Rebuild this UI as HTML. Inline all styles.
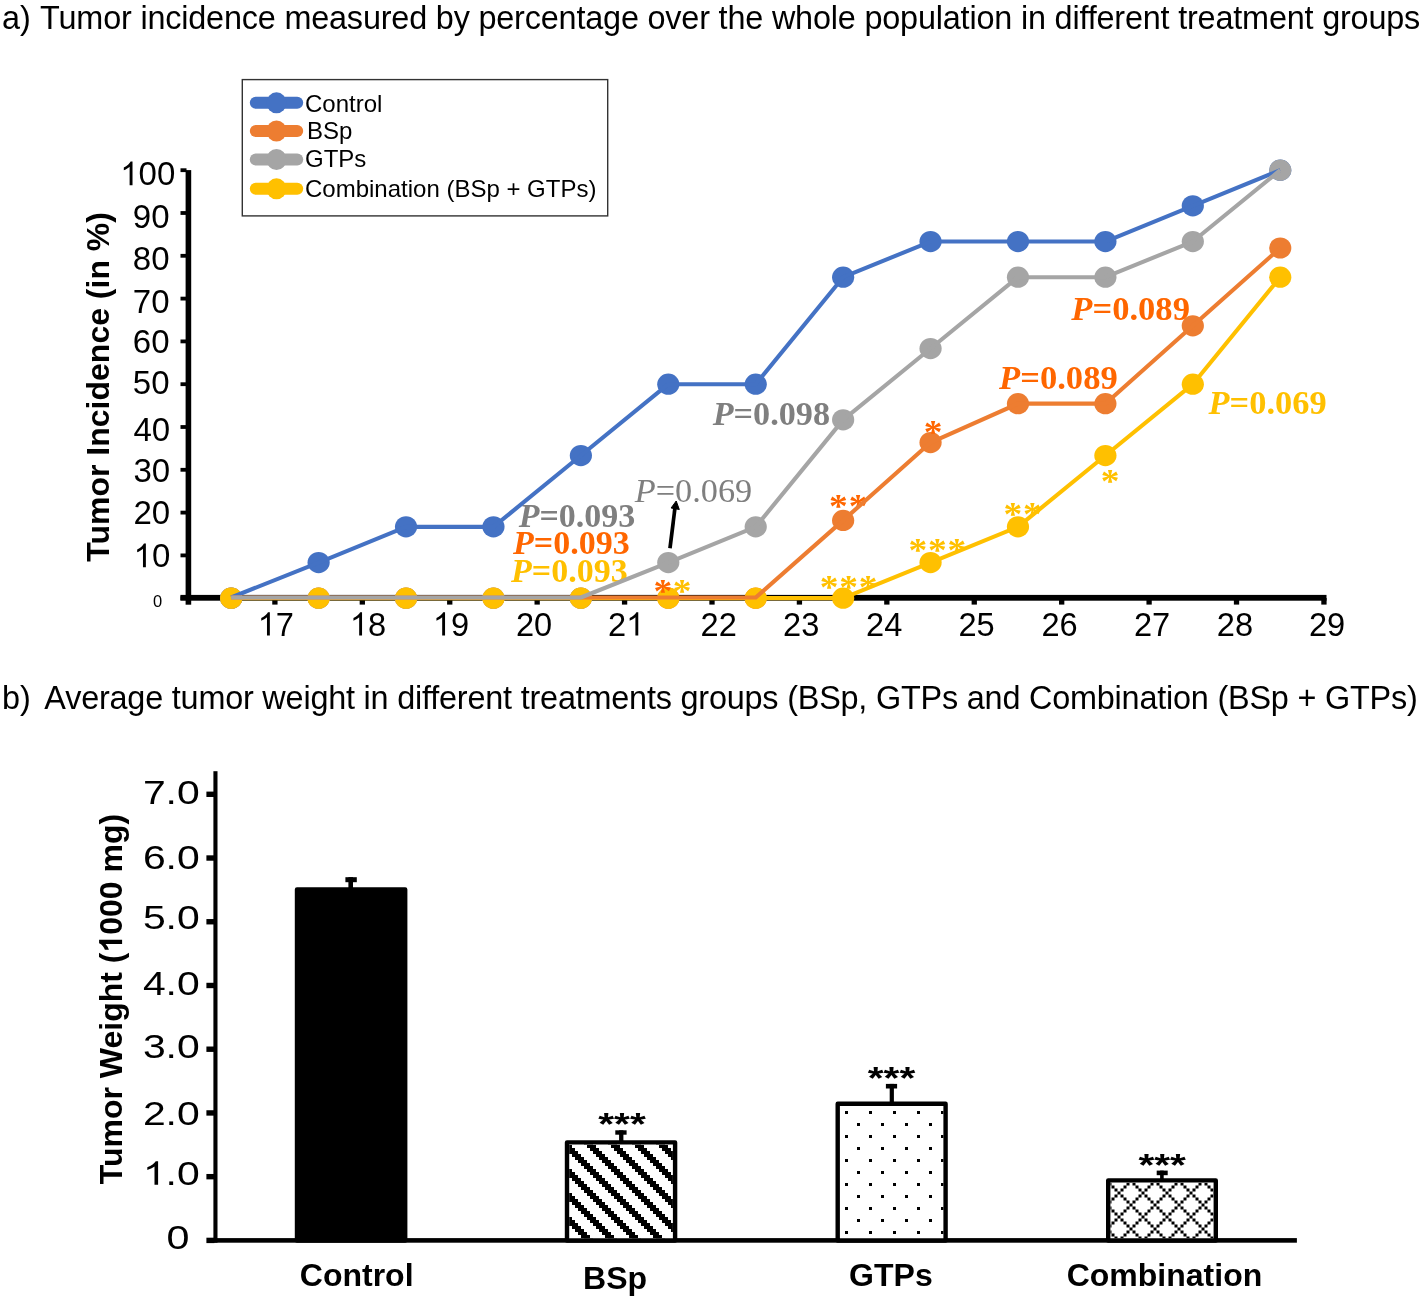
<!DOCTYPE html>
<html><head><meta charset="utf-8"><style>
html,body{margin:0;padding:0;background:#fff;}
svg{display:block;}
text{font-family:"Liberation Sans",sans-serif;}
.serif{font-family:"Liberation Serif",serif;}
.one{fill-opacity:0;}
</style></head><body>
<svg style="will-change:transform" width="1422" height="1298" viewBox="0 0 1422 1298">
<defs>
<pattern id="stripe" patternUnits="userSpaceOnUse" x="587" y="1145" width="24" height="24" shape-rendering="crispEdges">
<rect x="0" y="0" width="3" height="3" fill="#000"/>
<rect x="3" y="0" width="3" height="3" fill="#000"/>
<rect x="6" y="0" width="3" height="3" fill="#000"/>
<rect x="3" y="3" width="3" height="3" fill="#000"/>
<rect x="6" y="3" width="3" height="3" fill="#000"/>
<rect x="9" y="3" width="3" height="3" fill="#000"/>
<rect x="6" y="6" width="3" height="3" fill="#000"/>
<rect x="9" y="6" width="3" height="3" fill="#000"/>
<rect x="12" y="6" width="3" height="3" fill="#000"/>
<rect x="9" y="9" width="3" height="3" fill="#000"/>
<rect x="12" y="9" width="3" height="3" fill="#000"/>
<rect x="15" y="9" width="3" height="3" fill="#000"/>
<rect x="12" y="12" width="3" height="3" fill="#000"/>
<rect x="15" y="12" width="3" height="3" fill="#000"/>
<rect x="18" y="12" width="3" height="3" fill="#000"/>
<rect x="15" y="15" width="3" height="3" fill="#000"/>
<rect x="18" y="15" width="3" height="3" fill="#000"/>
<rect x="21" y="15" width="3" height="3" fill="#000"/>
<rect x="18" y="18" width="3" height="3" fill="#000"/>
<rect x="21" y="18" width="3" height="3" fill="#000"/>
<rect x="0" y="18" width="3" height="3" fill="#000"/>
<rect x="21" y="21" width="3" height="3" fill="#000"/>
<rect x="0" y="21" width="3" height="3" fill="#000"/>
<rect x="3" y="21" width="3" height="3" fill="#000"/>
</pattern>
<pattern id="dots" patternUnits="userSpaceOnUse" x="845" y="1111" width="24" height="24" shape-rendering="crispEdges"><rect x="0" y="0" width="3" height="3" fill="#000"/><rect x="12" y="12" width="3" height="3" fill="#000"/></pattern>
<pattern id="cross" patternUnits="userSpaceOnUse" x="1117.5" y="1191.5" width="24" height="24" shape-rendering="crispEdges">
<rect x="0" y="0" width="3" height="3" fill="#000"/>
<rect x="3" y="3" width="3" height="3" fill="#000"/>
<rect x="3" y="21" width="3" height="3" fill="#000"/>
<rect x="6" y="6" width="3" height="3" fill="#000"/>
<rect x="6" y="18" width="3" height="3" fill="#000"/>
<rect x="9" y="9" width="3" height="3" fill="#000"/>
<rect x="9" y="15" width="3" height="3" fill="#000"/>
<rect x="12" y="12" width="3" height="3" fill="#000"/>
<rect x="15" y="9" width="3" height="3" fill="#000"/>
<rect x="15" y="15" width="3" height="3" fill="#000"/>
<rect x="18" y="6" width="3" height="3" fill="#000"/>
<rect x="18" y="18" width="3" height="3" fill="#000"/>
<rect x="21" y="3" width="3" height="3" fill="#000"/>
<rect x="21" y="21" width="3" height="3" fill="#000"/>
</pattern>
</defs>
<rect width="1422" height="1298" fill="#fff"/>
<text x="2.0" y="29.3" font-size="32.4">a)</text>
<text x="40.1" y="29.3" font-size="32.4" textLength="1380.2" lengthAdjust="spacing">Tumor incidence measured by percentage over the whole population in different treatment groups</text>
<text x="2" y="708.7" font-size="32.4">b)</text>
<text x="44.3" y="708.7" font-size="32.4" textLength="1373.5" lengthAdjust="spacing">Average tumor weight in different treatments groups (BSp, GTPs and Combination (BSp + GTPs)</text>
<g fill="#000">
<rect x="185.6" y="170.1" width="5.6" height="434.6"/>
<rect x="180.4" y="594.9" width="1146.1" height="5.8"/>
<rect x="180.5" y="596.30" width="6" height="3.8"/>
<rect x="180.5" y="553.50" width="6" height="3.8"/>
<rect x="180.5" y="510.70" width="6" height="3.8"/>
<rect x="180.5" y="467.90" width="6" height="3.8"/>
<rect x="180.5" y="425.10" width="6" height="3.8"/>
<rect x="180.5" y="382.30" width="6" height="3.8"/>
<rect x="180.5" y="339.50" width="6" height="3.8"/>
<rect x="180.5" y="296.70" width="6" height="3.8"/>
<rect x="180.5" y="253.90" width="6" height="3.8"/>
<rect x="180.5" y="211.10" width="6" height="3.8"/>
<rect x="180.5" y="168.30" width="6" height="3.8"/>
<rect x="272.25" y="598" width="5.3" height="6.6"/>
<rect x="359.67" y="598" width="5.3" height="6.6"/>
<rect x="447.09" y="598" width="5.3" height="6.6"/>
<rect x="534.51" y="598" width="5.3" height="6.6"/>
<rect x="621.93" y="598" width="5.3" height="6.6"/>
<rect x="709.35" y="598" width="5.3" height="6.6"/>
<rect x="796.77" y="598" width="5.3" height="6.6"/>
<rect x="884.19" y="598" width="5.3" height="6.6"/>
<rect x="971.61" y="598" width="5.3" height="6.6"/>
<rect x="1059.03" y="598" width="5.3" height="6.6"/>
<rect x="1146.45" y="598" width="5.3" height="6.6"/>
<rect x="1233.87" y="598" width="5.3" height="6.6"/>
<rect x="1321.29" y="598" width="5.3" height="6.6"/>
</g>
<text x="175.3" y="185.2" font-size="33" text-anchor="end"><tspan class="one">1</tspan>00</text>
<text x="169.5" y="227.5" font-size="33" text-anchor="end">90</text>
<text x="169.5" y="270.4" font-size="33" text-anchor="end">80</text>
<text x="169.5" y="312.5" font-size="33" text-anchor="end">70</text>
<text x="169.5" y="352.6" font-size="33" text-anchor="end">60</text>
<text x="169.5" y="394.2" font-size="33" text-anchor="end">50</text>
<text x="170.1" y="440.5" font-size="33" text-anchor="end">40</text>
<text x="170.1" y="482.1" font-size="33" text-anchor="end">30</text>
<text x="170.1" y="524.4" font-size="33" text-anchor="end">20</text>
<text x="170.3" y="567.3" font-size="33" text-anchor="end"><tspan class="one">1</tspan>0</text>
<text x="153" y="607" font-size="16.5">0</text>
<text x="257.7" y="635.6" font-size="32.6"><tspan class="one">1</tspan>7</text>
<text x="349.9" y="635.6" font-size="32.6"><tspan class="one">1</tspan>8</text>
<text x="432.9" y="635.6" font-size="32.6"><tspan class="one">1</tspan>9</text>
<text x="516.0" y="635.6" font-size="32.6">20</text>
<text x="608.0" y="635.6" font-size="32.6">2<tspan class="one">1</tspan></text>
<text x="700.6" y="635.6" font-size="32.6">22</text>
<text x="783.1" y="635.6" font-size="32.6">23</text>
<text x="866.1" y="635.6" font-size="32.6">24</text>
<text x="958.4" y="635.6" font-size="32.6">25</text>
<text x="1041.5" y="635.6" font-size="32.6">26</text>
<text x="1133.9" y="635.6" font-size="32.6">27</text>
<text x="1216.8" y="635.6" font-size="32.6">28</text>
<text x="1308.9" y="635.6" font-size="32.6">29</text>
<text transform="translate(109.3,561.7) rotate(-90)" font-size="32" font-weight="bold">Tumor Incidence (in %)</text>
<rect x="242.3" y="79.6" width="365.4" height="136.3" fill="#fff" stroke="#333" stroke-width="1.4"/>
<line x1="255.8" y1="102.8" x2="297.2" y2="102.8" stroke="#4472C4" stroke-width="12" stroke-linecap="round"/>
<ellipse cx="276.5" cy="102.8" rx="10" ry="10.5" fill="#4472C4"/>
<text x="305" y="112" font-size="24">Control</text>
<line x1="255.8" y1="131" x2="297.2" y2="131" stroke="#ED7D31" stroke-width="12" stroke-linecap="round"/>
<ellipse cx="276.5" cy="131" rx="10" ry="10.5" fill="#ED7D31"/>
<text x="307" y="138.5" font-size="24">BSp</text>
<line x1="255.8" y1="159.5" x2="297.2" y2="159.5" stroke="#A5A5A5" stroke-width="12" stroke-linecap="round"/>
<ellipse cx="276.5" cy="159.5" rx="10" ry="10.5" fill="#A5A5A5"/>
<text x="305" y="166.9" font-size="24">GTPs</text>
<line x1="255.8" y1="188.8" x2="297.2" y2="188.8" stroke="#FFC000" stroke-width="12" stroke-linecap="round"/>
<ellipse cx="276.5" cy="188.8" rx="10" ry="10.5" fill="#FFC000"/>
<text x="305" y="196.8" font-size="24">Combination (BSp + GTPs)</text>
<ellipse cx="231.19" cy="598.20" rx="11.1" ry="10.6" fill="#4472C4"/><ellipse cx="318.61" cy="562.53" rx="11.1" ry="10.6" fill="#4472C4"/><ellipse cx="406.03" cy="526.87" rx="11.1" ry="10.6" fill="#4472C4"/><ellipse cx="493.45" cy="526.87" rx="11.1" ry="10.6" fill="#4472C4"/><ellipse cx="580.87" cy="455.53" rx="11.1" ry="10.6" fill="#4472C4"/><ellipse cx="668.29" cy="384.20" rx="11.1" ry="10.6" fill="#4472C4"/><ellipse cx="755.71" cy="384.20" rx="11.1" ry="10.6" fill="#4472C4"/><ellipse cx="843.13" cy="277.20" rx="11.1" ry="10.6" fill="#4472C4"/><ellipse cx="930.55" cy="241.53" rx="11.1" ry="10.6" fill="#4472C4"/><ellipse cx="1017.97" cy="241.53" rx="11.1" ry="10.6" fill="#4472C4"/><ellipse cx="1105.39" cy="241.53" rx="11.1" ry="10.6" fill="#4472C4"/><ellipse cx="1192.81" cy="205.87" rx="11.1" ry="10.6" fill="#4472C4"/><ellipse cx="1280.23" cy="170.20" rx="11.1" ry="10.6" fill="#4472C4"/>
<ellipse cx="231.19" cy="598.20" rx="11.1" ry="10.6" fill="#ED7D31"/><ellipse cx="318.61" cy="598.20" rx="11.1" ry="10.6" fill="#ED7D31"/><ellipse cx="406.03" cy="598.20" rx="11.1" ry="10.6" fill="#ED7D31"/><ellipse cx="493.45" cy="598.20" rx="11.1" ry="10.6" fill="#ED7D31"/><ellipse cx="580.87" cy="598.20" rx="11.1" ry="10.6" fill="#ED7D31"/><ellipse cx="668.29" cy="598.20" rx="11.1" ry="10.6" fill="#ED7D31"/><ellipse cx="755.71" cy="598.20" rx="11.1" ry="10.6" fill="#ED7D31"/><ellipse cx="843.13" cy="520.39" rx="11.1" ry="10.6" fill="#ED7D31"/><ellipse cx="930.55" cy="442.58" rx="11.1" ry="10.6" fill="#ED7D31"/><ellipse cx="1017.97" cy="403.67" rx="11.1" ry="10.6" fill="#ED7D31"/><ellipse cx="1105.39" cy="403.67" rx="11.1" ry="10.6" fill="#ED7D31"/><ellipse cx="1192.81" cy="325.82" rx="11.1" ry="10.6" fill="#ED7D31"/><ellipse cx="1280.23" cy="248.01" rx="11.1" ry="10.6" fill="#ED7D31"/>
<ellipse cx="231.19" cy="598.20" rx="11.1" ry="10.6" fill="#A5A5A5"/><ellipse cx="318.61" cy="598.20" rx="11.1" ry="10.6" fill="#A5A5A5"/><ellipse cx="406.03" cy="598.20" rx="11.1" ry="10.6" fill="#A5A5A5"/><ellipse cx="493.45" cy="598.20" rx="11.1" ry="10.6" fill="#A5A5A5"/><ellipse cx="580.87" cy="598.20" rx="11.1" ry="10.6" fill="#A5A5A5"/><ellipse cx="668.29" cy="562.53" rx="11.1" ry="10.6" fill="#A5A5A5"/><ellipse cx="755.71" cy="526.87" rx="11.1" ry="10.6" fill="#A5A5A5"/><ellipse cx="843.13" cy="419.87" rx="11.1" ry="10.6" fill="#A5A5A5"/><ellipse cx="930.55" cy="348.53" rx="11.1" ry="10.6" fill="#A5A5A5"/><ellipse cx="1017.97" cy="277.20" rx="11.1" ry="10.6" fill="#A5A5A5"/><ellipse cx="1105.39" cy="277.20" rx="11.1" ry="10.6" fill="#A5A5A5"/><ellipse cx="1192.81" cy="241.53" rx="11.1" ry="10.6" fill="#A5A5A5"/><ellipse cx="1280.23" cy="170.20" rx="11.1" ry="10.6" fill="#A5A5A5"/>
<ellipse cx="231.19" cy="598.20" rx="11.1" ry="10.6" fill="#FFC000"/><ellipse cx="318.61" cy="598.20" rx="11.1" ry="10.6" fill="#FFC000"/><ellipse cx="406.03" cy="598.20" rx="11.1" ry="10.6" fill="#FFC000"/><ellipse cx="493.45" cy="598.20" rx="11.1" ry="10.6" fill="#FFC000"/><ellipse cx="580.87" cy="598.20" rx="11.1" ry="10.6" fill="#FFC000"/><ellipse cx="668.29" cy="598.20" rx="11.1" ry="10.6" fill="#FFC000"/><ellipse cx="755.71" cy="598.20" rx="11.1" ry="10.6" fill="#FFC000"/><ellipse cx="843.13" cy="598.20" rx="11.1" ry="10.6" fill="#FFC000"/><ellipse cx="930.55" cy="562.53" rx="11.1" ry="10.6" fill="#FFC000"/><ellipse cx="1017.97" cy="526.87" rx="11.1" ry="10.6" fill="#FFC000"/><ellipse cx="1105.39" cy="455.53" rx="11.1" ry="10.6" fill="#FFC000"/><ellipse cx="1192.81" cy="384.20" rx="11.1" ry="10.6" fill="#FFC000"/><ellipse cx="1280.23" cy="277.20" rx="11.1" ry="10.6" fill="#FFC000"/>
<text class="serif" x="712.7" y="424.5" font-size="34.2" font-weight="bold" fill="#7F7F7F"><tspan font-style="italic">P</tspan>=0.098</text>
<text class="serif" x="518.7" y="526.7" font-size="34.0" font-weight="bold" fill="#7F7F7F"><tspan font-style="italic">P</tspan>=0.093</text>
<text class="serif" x="513.0" y="554.1" font-size="34.0" font-weight="bold" fill="#FF6600"><tspan font-style="italic">P</tspan>=0.093</text>
<text class="serif" x="511.0" y="581.5" font-size="34.0" font-weight="bold" fill="#FFC000"><tspan font-style="italic">P</tspan>=0.093</text>
<text class="serif" x="634.8" y="502.3" font-size="34.3" font-weight="normal" fill="#7F7F7F"><tspan font-style="italic">P</tspan>=0.069</text>
<text class="serif" x="1071.3" y="320" font-size="34.6" font-weight="bold" fill="#FF6600"><tspan font-style="italic">P</tspan>=0.089</text>
<text class="serif" x="999.1" y="389.3" font-size="34.6" font-weight="bold" fill="#FF6600"><tspan font-style="italic">P</tspan>=0.089</text>
<text class="serif" x="1208.6" y="414.3" font-size="34.4" font-weight="bold" fill="#FFC000"><tspan font-style="italic">P</tspan>=0.069</text>
<text class="serif" transform="translate(655.8,602.1) scale(1.1,1)" x="-2" y="0" font-size="34" font-weight="bold" fill="#FF6600" letter-spacing="0.75">*</text>
<text class="serif" transform="translate(675.0,602.1) scale(1.1,1)" x="-2" y="0" font-size="34" font-weight="bold" fill="#FFC000" letter-spacing="0.75">*</text>
<text class="serif" transform="translate(831.3,516.9) scale(1.1,1)" x="-2" y="0" font-size="34" font-weight="bold" fill="#FF6600" letter-spacing="0.75">**</text>
<text class="serif" transform="translate(822.0,597.8) scale(1.1,1)" x="-2" y="0" font-size="34" font-weight="bold" fill="#FFC000" letter-spacing="0.75">***</text>
<text class="serif" transform="translate(926.0,443) scale(1.1,1)" x="-2" y="0" font-size="34" font-weight="bold" fill="#FF6600" letter-spacing="0.75">*</text>
<text class="serif" transform="translate(910.6,561.4) scale(1.1,1)" x="-2" y="0" font-size="34" font-weight="bold" fill="#FFC000" letter-spacing="0.75">***</text>
<text class="serif" transform="translate(1005.7,525) scale(1.1,1)" x="-2" y="0" font-size="34" font-weight="bold" fill="#FFC000" letter-spacing="0.75">**</text>
<text class="serif" transform="translate(1102.9,492.2) scale(1.1,1)" x="-2" y="0" font-size="34" font-weight="bold" fill="#FFC000" letter-spacing="0.75">*</text>
<line x1="670" y1="548.2" x2="675.2" y2="506" stroke="#000" stroke-width="3.7"/>
<polygon points="676.2,501 671.1,508 679.3,509.5" fill="#000" stroke="#000" stroke-width="1" stroke-linejoin="round"/>
<polyline points="231.19,597.50 318.61,562.53 406.03,526.87 493.45,526.87 580.87,455.53 668.29,384.20 755.71,384.20 843.13,277.20 930.55,241.53 1017.97,241.53 1105.39,241.53 1192.81,205.87 1280.23,170.20" fill="none" stroke="#4472C4" stroke-width="4.1" stroke-linejoin="round"/>
<polyline points="231.19,598.10 318.61,598.10 406.03,598.10 493.45,598.10 580.87,598.10 668.29,598.10 755.71,598.10 843.13,598.10 930.55,562.53 1017.97,526.87 1105.39,455.53 1192.81,384.20 1280.23,277.20" fill="none" stroke="#FFC000" stroke-width="4.1" stroke-linejoin="round"/>
<polyline points="231.19,597.50 318.61,597.50 406.03,597.50 493.45,597.50 580.87,597.50 668.29,597.50 755.71,597.50 843.13,520.39 930.55,442.58 1017.97,403.67 1105.39,403.67 1192.81,325.82 1280.23,248.01" fill="none" stroke="#ED7D31" stroke-width="4.1" stroke-linejoin="round"/>
<polyline points="231.19,597.50 318.61,597.50 406.03,597.50 493.45,597.50 580.87,597.50 668.29,562.53 755.71,526.87 843.13,419.87 930.55,348.53 1017.97,277.20 1105.39,277.20 1192.81,241.53 1280.23,170.20" fill="none" stroke="#A5A5A5" stroke-width="4.1" stroke-linejoin="round"/>
<g fill="#000">
<rect x="213.4" y="771.2" width="4.1" height="471.5"/>
<rect x="213.4" y="1238.1" width="1083.5" height="4.6"/>
<rect x="206.4" y="1237.70" width="8" height="5.4"/>
<rect x="206.4" y="1173.97" width="8" height="5.4"/>
<rect x="206.4" y="1110.24" width="8" height="5.4"/>
<rect x="206.4" y="1046.51" width="8" height="5.4"/>
<rect x="206.4" y="982.78" width="8" height="5.4"/>
<rect x="206.4" y="919.05" width="8" height="5.4"/>
<rect x="206.4" y="855.32" width="8" height="5.4"/>
<rect x="206.4" y="791.59" width="8" height="5.4"/>
</g>
<text transform="translate(199.7,804.3) scale(1.258,1)" font-size="32.5" text-anchor="end">7.0</text>
<text transform="translate(199.7,868.6) scale(1.258,1)" font-size="32.5" text-anchor="end">6.0</text>
<text transform="translate(199.7,928.8) scale(1.258,1)" font-size="32.5" text-anchor="end">5.0</text>
<text transform="translate(199.7,994.5) scale(1.258,1)" font-size="32.5" text-anchor="end">4.0</text>
<text transform="translate(199.7,1058) scale(1.258,1)" font-size="32.5" text-anchor="end">3.0</text>
<text transform="translate(199.7,1124.6) scale(1.258,1)" font-size="32.5" text-anchor="end">2.0</text>
<text transform="translate(199.7,1184.7) scale(1.258,1)" font-size="32.5" text-anchor="end"><tspan class="one">1</tspan>.0</text>
<text transform="translate(189.5,1249.2) scale(1.27,1)" font-size="32.5" text-anchor="end">0</text>
<text transform="translate(122.1,1184.2) rotate(-90)" font-size="32" font-weight="bold">Tumor Weight (<tspan class="one">1</tspan>000 mg)</text>
<rect x="297.00" y="889.40" width="108.20" height="351.10" fill="#fff" stroke="#000" stroke-width="4.4" stroke-linejoin="round"/>
<rect x="297.00" y="889.40" width="108.20" height="351.10" fill="#000"/>
<rect x="567.00" y="1142.40" width="108.10" height="98.10" fill="#fff" stroke="#000" stroke-width="4.4" stroke-linejoin="round"/>
<rect x="569.20" y="1144.60" width="103.70" height="93.70" fill="url(#stripe)"/>
<rect x="837.70" y="1103.80" width="107.90" height="136.70" fill="#fff" stroke="#000" stroke-width="4.4" stroke-linejoin="round"/>
<rect x="839.90" y="1106.00" width="103.50" height="132.30" fill="url(#dots)"/>
<rect x="1108.20" y="1180.40" width="107.60" height="60.10" fill="#fff" stroke="#000" stroke-width="4.4" stroke-linejoin="round"/>
<rect x="1110.40" y="1182.60" width="103.20" height="55.70" fill="url(#cross)"/>
<rect x="345.4" y="877.2" width="11.40" height="5.00" fill="#000"/>
<rect x="348.4" y="877.2" width="4.60" height="12.00" fill="#000"/>
<rect x="615.3" y="1130.3" width="11.30" height="4.40" fill="#000"/>
<rect x="619.1" y="1130.3" width="4.30" height="11.90" fill="#000"/>
<rect x="885.9" y="1083.9" width="11.20" height="4.60" fill="#000"/>
<rect x="889.7" y="1083.9" width="4.20" height="19.70" fill="#000"/>
<rect x="1156.7" y="1170.6" width="11.00" height="4.60" fill="#000"/>
<rect x="1160.1" y="1170.6" width="3.60" height="9.60" fill="#000"/>
<text transform="translate(598.3,1135.3) scale(1.27,1)" font-size="32" font-weight="bold">***</text>
<text transform="translate(867.8,1088.9) scale(1.27,1)" font-size="32" font-weight="bold">***</text>
<text transform="translate(1138.4,1175.9) scale(1.27,1)" font-size="32" font-weight="bold">***</text>
<text x="299.8" y="1286.1" font-size="32" font-weight="bold">Control</text>
<text x="583.1" y="1288.5" font-size="32" font-weight="bold">BSp</text>
<text x="849.1" y="1286.2" font-size="32" font-weight="bold">GTPs</text>
<text x="1066.7" y="1286.2" font-size="32" font-weight="bold">Combination</text>
<path transform="matrix(1.0000,0.0000,0.0000,1.0000,0.0000,0.0000) translate(120.22,185.20) scale(0.016113,-0.016113)" d="M763,0L583,0L583,1147Q518,1085 412,1023Q306,961 223,930L223,1104Q374,1175 487,1276Q600,1377 646,1472L763,1472Z" fill="#000"/>
<path transform="matrix(1.0000,0.0000,0.0000,1.0000,0.0000,0.0000) translate(133.58,567.30) scale(0.016113,-0.016113)" d="M763,0L583,0L583,1147Q518,1085 412,1023Q306,961 223,930L223,1104Q374,1175 487,1276Q600,1377 646,1472L763,1472Z" fill="#000"/>
<path transform="matrix(1.0000,0.0000,0.0000,1.0000,0.0000,0.0000) translate(257.70,635.60) scale(0.015918,-0.015918)" d="M763,0L583,0L583,1147Q518,1085 412,1023Q306,961 223,930L223,1104Q374,1175 487,1276Q600,1377 646,1472L763,1472Z" fill="#000"/>
<path transform="matrix(1.0000,0.0000,0.0000,1.0000,0.0000,0.0000) translate(349.90,635.60) scale(0.015918,-0.015918)" d="M763,0L583,0L583,1147Q518,1085 412,1023Q306,961 223,930L223,1104Q374,1175 487,1276Q600,1377 646,1472L763,1472Z" fill="#000"/>
<path transform="matrix(1.0000,0.0000,0.0000,1.0000,0.0000,0.0000) translate(432.90,635.60) scale(0.015918,-0.015918)" d="M763,0L583,0L583,1147Q518,1085 412,1023Q306,961 223,930L223,1104Q374,1175 487,1276Q600,1377 646,1472L763,1472Z" fill="#000"/>
<path transform="matrix(1.0000,0.0000,0.0000,1.0000,0.0000,0.0000) translate(626.12,635.60) scale(0.015918,-0.015918)" d="M763,0L583,0L583,1147Q518,1085 412,1023Q306,961 223,930L223,1104Q374,1175 487,1276Q600,1377 646,1472L763,1472Z" fill="#000"/>
<path transform="matrix(1.2580,0.0000,0.0000,1.0000,199.7000,1184.7000) translate(-45.18,0.00) scale(0.015869,-0.015869)" d="M763,0L583,0L583,1147Q518,1085 412,1023Q306,961 223,930L223,1104Q374,1175 487,1276Q600,1377 646,1472L763,1472Z" fill="#000"/>
<path transform="matrix(0.0000,-1.0000,1.0000,0.0000,122.1000,1184.2000) translate(231.67,0.00) scale(0.015625,-0.015625)" d="M824,0L543,0L543,1059Q389,915 180,846L180,1101Q290,1137 419,1237Q548,1338 596,1472L824,1472Z" fill="#000"/>
</svg></body></html>
